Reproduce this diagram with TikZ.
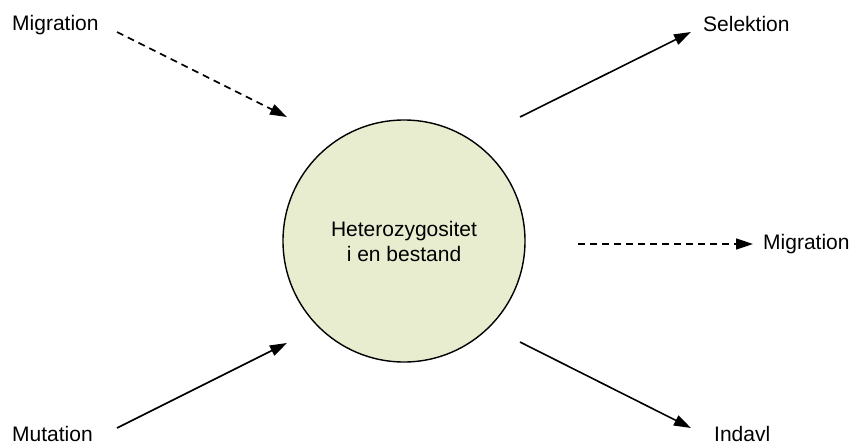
\documentclass[tikz,border=0pt]{standalone}
\usepackage{fontspec}
\setmainfont{Liberation Sans}
\usetikzlibrary{arrows.meta}
\definecolor{cfill}{RGB}{233,237,208}
\begin{document}
\begin{tikzpicture}[x=1pt,y=-1pt,
  lbl/.style={font=\fontsize{21}{25}\selectfont, inner sep=0pt, anchor=west},
  conn/.style={line width=1.6pt, -{Triangle[length=17pt,width=11pt]}},
  dconn/.style={conn, dash pattern=on 7pt off 5pt}]
\useasboundingbox (0,0) rectangle (862,445);
\node[circle, draw, line width=1.4pt, fill=cfill, minimum size=242pt, inner sep=0pt,
      align=center, font=\fontsize{21}{25}\selectfont] (c) at (404,241)
      {Heterozygositet\\i en bestand};
\node[lbl] (mig1) at (12,25) {Migration};
\node[lbl] (sel) at (703,24) {Selektion};
\node[lbl] (mig2) at (763,244) {Migration};
\node[lbl] (mut) at (12,434) {Mutation};
\node[lbl] (ind) at (714,434) {Indavl};
\coordinate (a1) at (117,32);  \coordinate (b1) at (287,117);
\coordinate (a2) at (520,117); \coordinate (b2) at (691,32);
\coordinate (a3) at (578,244); \coordinate (b3) at (753,244);
\coordinate (a4) at (117,428); \coordinate (b4) at (287,343);
\coordinate (a5) at (520,342); \coordinate (b5) at (691,428);
\draw[dconn] (a1) -- (b1);
\draw[conn] (a2) -- (b2);
\draw[dconn] (a3) -- (b3);
\draw[conn] (a4) -- (b4);
\draw[conn] (a5) -- (b5);
\end{tikzpicture}
\end{document}
